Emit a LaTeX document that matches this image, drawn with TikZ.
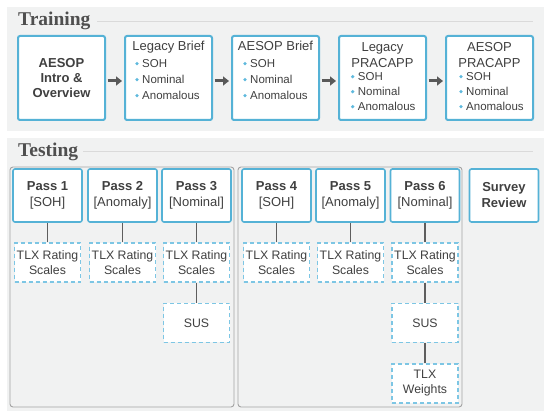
\documentclass[tikz,border=0pt]{standalone}
\usepackage{fontspec}
\setmainfont{Liberation Sans}
\newfontfamily\titlefont{Liberation Serif}
\usetikzlibrary{arrows.meta}
\definecolor{panel}{HTML}{F1F2F2}
\definecolor{boxblue}{HTML}{55B2D6}
\definecolor{dashblue}{HTML}{7DC6E4}
\definecolor{bulcol}{HTML}{5EB9DD}
\definecolor{txt}{HTML}{404040}
\definecolor{ttl}{HTML}{4F4F4F}
\definecolor{grp}{HTML}{A3A3A3}
\definecolor{rulecol}{HTML}{DADADA}
\definecolor{conncol}{HTML}{5E5E5E}
\definecolor{arrcol}{HTML}{595959}
\newcommand\bitem[4]{%
  \fill[bulcol] (#1,#2-4.3) circle (1.8pt);
  \node[btext,anchor=base west] (#4) at (#1+5,#2) {#3};}
\begin{document}
\begin{tikzpicture}[x=1pt,y=-1pt,
  trainbox/.style={draw=boxblue,line width=2pt,fill=white,rounded corners=2pt,minimum width=87pt,minimum height=84pt,inner sep=0pt},
  passbox/.style={draw=boxblue,line width=1.6pt,fill=white,rounded corners=2pt,minimum width=69pt,minimum height=53pt,inner sep=0pt,text=txt,align=center,font=\fontsize{13}{16}\selectfont},
  dashbox/.style={draw=dashblue,line width=1.2pt,dash pattern=on 4pt off 3pt,fill=white,minimum width=66pt,minimum height=39pt,inner sep=0pt,text=txt,align=center,font=\fontsize{12.3}{15}\selectfont},
  grpbox/.style={draw=grp,line width=0.9pt,rounded corners=3pt},
  connline/.style={draw=conncol,line width=1.8pt},
  flow/.style={draw=arrcol,line width=3pt,-{Triangle[length=6pt,width=9pt]}},
  ttext/.style={text=txt,font=\fontsize{13}{15}\selectfont,align=center},
  btext/.style={text=txt,font=\fontsize{11.5}{14}\selectfont,inner sep=0pt},
  sectitle/.style={text=ttl,font=\titlefont\bfseries\fontsize{19.5}{22}\selectfont,inner sep=0pt,anchor=base west},
  rulel/.style={draw=rulecol,line width=0.8pt}
]
\useasboundingbox (0,0) rectangle (550,419);
% panels
\fill[panel] (7,7) rectangle (544,131);
\fill[panel] (7,138) rectangle (544,411);
% titles
\node[sectitle] (trtitle) at (18,26) {Training};
\draw[rulel] (97,21) -- (533,21);
\node[sectitle] (tetitle) at (18,157) {Testing};
\draw[rulel] (83,151) -- (533,151);
% training boxes
\node[trainbox] (B1) at (61.5,78) {};
\node[trainbox] (B2) at (168.5,78) {};
\node[trainbox] (B3) at (275.5,78) {};
\node[trainbox] (B4) at (382.5,78) {};
\node[trainbox] (B5) at (489.5,78) {};
\node[ttext,font=\bfseries\fontsize{13}{15}\selectfont] (B1t) at (61.5,78) {AESOP\\Intro \&\\Overview};
\node[ttext,anchor=base] (B2t) at (168.5,50.7) {Legacy Brief};
\node[ttext,anchor=base] (B3t) at (275.5,50.7) {AESOP Brief};
\node[ttext,anchor=base] (B4t) at (382.5,51.7) {Legacy};
\node[ttext,anchor=base] (B4u) at (382.5,67.2) {PRACAPP};
\node[ttext,anchor=base] (B5t) at (489.5,51.7) {AESOP};
\node[ttext,anchor=base] (B5u) at (489.5,67.2) {PRACAPP};
\bitem{137}{68}{SOH}{b2a}
\bitem{137}{84}{Nominal}{b2b}
\bitem{137}{100}{Anomalous}{b2c}
\bitem{245}{68}{SOH}{b3a}
\bitem{245}{84}{Nominal}{b3b}
\bitem{245}{100}{Anomalous}{b3c}
\bitem{352.7}{81}{SOH}{b4a}
\bitem{352.7}{96}{Nominal}{b4b}
\bitem{352.7}{111}{Anomalous}{b4c}
\bitem{461}{81}{SOH}{b5a}
\bitem{461}{96}{Nominal}{b5b}
\bitem{461}{111}{Anomalous}{b5c}
% arrows
\foreach \a/\b in {B1/B2,B2/B3,B3/B4,B4/B5}
  \draw[flow,shorten <=1.5pt,shorten >=2pt] ([yshift=-3pt]\a.east) -- ([yshift=-3pt]\b.west);
% groups
\draw[grpbox] (10,167) rectangle (234,407);
\draw[grpbox] (238,167) rectangle (462,407);
% pass boxes
\node[passbox] (P1) at (47.5,195.5) {\textbf{Pass 1}\\{}[SOH]};
\node[passbox] (P2) at (122.5,195.5) {\textbf{Pass 2}\\{}[Anomaly]};
\node[passbox] (P3) at (196.5,195.5) {\textbf{Pass 3}\\{}[Nominal]};
\node[passbox] (P4) at (276.5,195.5) {\textbf{Pass 4}\\{}[SOH]};
\node[passbox] (P5) at (350.5,195.5) {\textbf{Pass 5}\\{}[Anomaly]};
\node[passbox] (P6) at (425,195.5) {\textbf{Pass 6}\\{}[Nominal]};
\node[passbox,font=\bfseries\fontsize{13}{16}\selectfont] (SR) at (504,195.5) {Survey\\Review};
% dashed boxes
\node[dashbox] (T1) at (47.5,262.5) {TLX Rating\\Scales};
\node[dashbox] (T2) at (122.5,262.5) {TLX Rating\\Scales};
\node[dashbox] (T3) at (196.5,262.5) {TLX Rating\\Scales};
\node[dashbox] (T4) at (276.5,262.5) {TLX Rating\\Scales};
\node[dashbox] (T5) at (350.5,262.5) {TLX Rating\\Scales};
\node[dashbox] (T6) at (425,262.5) {TLX Rating\\Scales};
\node[dashbox] (S3) at (196.5,323) {SUS};
\node[dashbox] (S6) at (425,323) {SUS};
\node[dashbox] (W6) at (425,383.5) {TLX\\Weights};
% connectors
\foreach \a/\b in {P1/T1,P2/T2,P3/T3,P4/T4,P5/T5,P6/T6,T3/S3,T6/S6,S6/W6}
  \draw[connline] (\a.south) -- (\b.north);
\end{tikzpicture}
\end{document}
